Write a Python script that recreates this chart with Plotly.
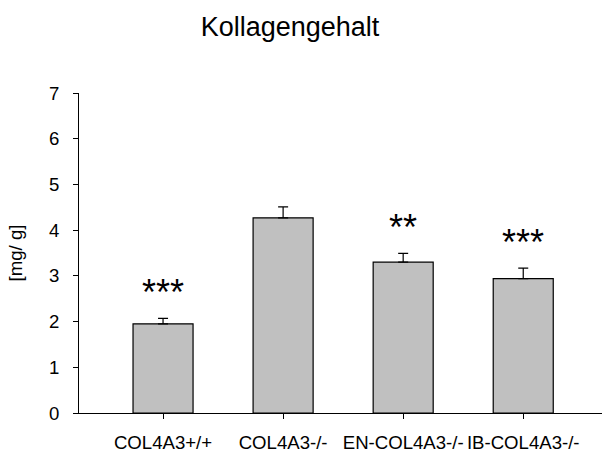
import plotly.graph_objects as go

categories = ["COL4A3+/+", "COL4A3-/-", "EN-COL4A3-/-", "IB-COL4A3-/-"]
values = [1.95, 4.27, 3.30, 2.94]
errors = [0.12, 0.24, 0.19, 0.23]
significance = ["***", "", "**", "***"]
y_ticks = [0, 1, 2, 3, 4, 5, 6, 7]

FONT = "Arial, Liberation Sans, sans-serif"

fig = go.Figure()
fig.add_trace(go.Bar(
    x=list(range(len(categories))),
    y=values,
    width=0.5,
    marker=dict(color="#c0c0c0", line=dict(color="#000000", width=1.2)),
    error_y=dict(type="data", symmetric=False, array=errors,
                 arrayminus=[0] * len(errors),
                 color="#000000", thickness=1.2, width=5),
    showlegend=False,
))

star_gap = 0.65
for i, s in enumerate(significance):
    if s:
        fig.add_annotation(
            x=i, y=values[i] + errors[i] + star_gap, text=s,
            showarrow=False, xanchor="center", yanchor="middle", yshift=-4,
            font=dict(family=FONT, size=36, color="#000000"),
        )

fig.update_layout(
    width=602, height=453,
    margin=dict(l=79.3, r=0, t=93.3, b=39.7, autoexpand=False),
    paper_bgcolor="white", plot_bgcolor="white",
    title=dict(text="Kollagengehalt", x=290 / 602, xanchor="center",
               xref="container", y=1 - 27 / 453, yanchor="middle",
               yref="container",
               font=dict(family=FONT, size=27, color="#000000")),
    font=dict(family=FONT, color="#000000"),
)

fig.update_xaxes(
    range=[-0.7, 3.656],
    tickmode="array", tickvals=list(range(len(categories))),
    ticktext=categories,
    ticks="outside", ticklen=5, tickcolor="#000000", tickwidth=1,
    showline=True, linecolor="#000000", linewidth=1,
    showgrid=False, zeroline=False,
    tickfont=dict(family=FONT, size=18.6, color="#000000"),
    ticklabelstandoff=8,
)
fig.update_yaxes(
    range=[0, 7],
    tickmode="array", tickvals=y_ticks,
    ticks="outside", ticklen=5, tickcolor="#000000", tickwidth=1,
    showline=True, linecolor="#000000", linewidth=1,
    showgrid=False, zeroline=False,
    tickfont=dict(family=FONT, size=18.6, color="#000000"),
    ticklabelstandoff=10,
    title=dict(text="[mg/ g]", standoff=21,
               font=dict(family=FONT, size=18.6, color="#000000")),
)

fig.write_html("out.html")
